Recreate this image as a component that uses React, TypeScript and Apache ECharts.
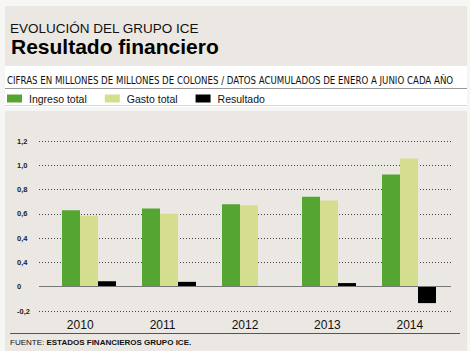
import React, { useEffect, useRef } from "react";
import * as echarts from "echarts";

const years = ["2010", "2011", "2012", "2013", "2014"];
const ingresoTotal = [0.63, 0.645, 0.68, 0.74, 0.925];
const gastoTotal = [0.585, 0.6, 0.67, 0.71, 1.055];
const resultado = [0.045, 0.04, 0.006, 0.03, -0.135];
const tickValues = [-0.2, 0, 0.2, 0.4, 0.6, 0.8, 1.0, 1.2];
const tickLabels = ["-0,2", "0", "0,4", "0,4", "0,6", "0,8", "1,0", "1,2"];

const GREEN = "#55a532";
const LIGHT = "#d4de8e";
const BLACK = "#000000";
const PANEL = "#ebe8e3";

export default function App() {
  const ref = useRef<HTMLDivElement>(null);
  useEffect(() => {
    document.body.style.margin = "0";
    const chart = echarts.init(ref.current!, null, { renderer: "svg" });
    const labelFor = (v: number) => {
      const i = tickValues.findIndex((t) => Math.abs(t - v) < 1e-6);
      return i >= 0 ? tickLabels[i] : "";
    };
    const yBase = {
      type: "value" as const,
      min: -0.2,
      max: 1.2,
      interval: 0.2,
    };
    chart.setOption({
      animation: false,
      backgroundColor: "#f6f6f4",
      textStyle: { fontFamily: "Liberation Sans, Arial, sans-serif" },
      graphic: [
        { type: "rect", shape: { x: 5, y: 6, width: 462, height: 60 }, style: { fill: PANEL }, z: -10 },
        { type: "rect", shape: { x: 5, y: 66, width: 462, height: 41 }, style: { fill: "#ffffff" }, z: -10 },
        { type: "rect", shape: { x: 5, y: 111, width: 462, height: 240 }, style: { fill: PANEL }, z: -10 },
        { type: "line", shape: { x1: 5, y1: 88.5, x2: 467, y2: 88.5 }, style: { stroke: "#9a9a9a", lineWidth: 1 }, z: -5 },
        { type: "line", shape: { x1: 5, y1: 105.5, x2: 467, y2: 105.5 }, style: { stroke: "#d8d8d8", lineWidth: 1 }, z: -5 },
        { type: "line", shape: { x1: 10, y1: 333.5, x2: 460, y2: 333.5 }, style: { stroke: "#555555", lineWidth: 1 }, z: -5 },
        {
          type: "text", x: 10, y: 21,
          style: { text: "EVOLUCIÓN DEL GRUPO ICE", fontSize: 13.5, fill: "#111", fontFamily: "Liberation Sans, Arial, sans-serif" },
        },
        {
          type: "text", x: 11, y: 36,
          style: { text: "Resultado financiero", fontSize: 21, fontWeight: "bold", fill: "#000", fontFamily: "Liberation Sans, Arial, sans-serif" },
        },
        {
          type: "text", x: 7, y: 75,
          style: { text: "CIFRAS EN MILLONES DE MILLONES DE COLONES / DATOS ACUMULADOS DE ENERO A JUNIO CADA AÑO", fontSize: 9.6, fill: "#111", fontFamily: "Liberation Sans Narrow, DejaVu Sans Condensed, Arial, sans-serif" },
        },
        {
          type: "text", x: 10, y: 338,
          style: {
            text: "{a|FUENTE: }{b|ESTADOS FINANCIEROS GRUPO ICE.}",
            rich: {
              a: { fontSize: 8, fill: "#111", fontFamily: "Liberation Sans Narrow, Arial, sans-serif" },
              b: { fontSize: 8, fontWeight: "bold", fill: "#111", fontFamily: "Liberation Sans Narrow, Arial, sans-serif" },
            },
          },
        },
      ],
      legend: {
        left: 7,
        top: 93,
        padding: 0,
        itemWidth: 15,
        itemHeight: 8,
        itemGap: 18,
        icon: "rect",
        textStyle: { fontSize: 10.5, color: "#111", padding: [0, 0, 0, 2], fontFamily: "Liberation Sans, Arial, sans-serif" },
        data: ["Ingreso total", "Gasto total", "Resultado"],
      },
      grid: [
        { left: 39, right: 19, top: 141, bottom: 40 },
        { left: 49, right: 21, top: 141, bottom: 40 },
      ],
      xAxis: [
        {
          type: "category", gridIndex: 0, data: years,
          axisLine: { show: false, onZero: false }, axisTick: { show: false },
          axisLabel: { fontSize: 12, color: "#111", margin: 8 },
        },
        {
          type: "category", gridIndex: 1, data: years,
          axisLine: { show: false, onZero: false }, axisTick: { show: false }, axisLabel: { show: false },
        },
      ],
      yAxis: [
        {
          ...yBase, gridIndex: 0,
          axisLine: { show: false }, axisTick: { show: false },
          axisLabel: { formatter: labelFor, align: "left", margin: 22, fontSize: 7.5, fontWeight: "bold", color: "#222" },
          splitLine: { show: true, lineStyle: { color: "#444", type: [1, 2], width: 1 } },
        },
        {
          ...yBase, gridIndex: 1,
          axisLine: { show: false }, axisTick: { show: false }, axisLabel: { show: false },
          splitLine: { show: false },
        },
      ],
      series: [
        {
          type: "line", xAxisIndex: 0, yAxisIndex: 0, data: [], silent: true,
          markLine: {
            silent: true, symbol: "none", label: { show: false },
            lineStyle: { color: "#777", type: "solid", width: 1 },
            data: [{ yAxis: 0 }],
          },
        },
        { name: "Ingreso total", type: "bar", xAxisIndex: 1, yAxisIndex: 1, data: ingresoTotal, barWidth: 18, barGap: "0%", itemStyle: { color: GREEN }, z: 3 },
        { name: "Gasto total", type: "bar", xAxisIndex: 1, yAxisIndex: 1, data: gastoTotal, barWidth: 18, barGap: "0%", itemStyle: { color: LIGHT }, z: 3 },
        { name: "Resultado", type: "bar", xAxisIndex: 1, yAxisIndex: 1, data: resultado, barWidth: 18, barGap: "0%", itemStyle: { color: BLACK }, z: 3 },
      ],
    });
    return () => chart.dispose();
  }, []);
  return <div ref={ref} style={{ width: 470, height: 351, position: "fixed", left: 0, top: 0 }} />;
}
